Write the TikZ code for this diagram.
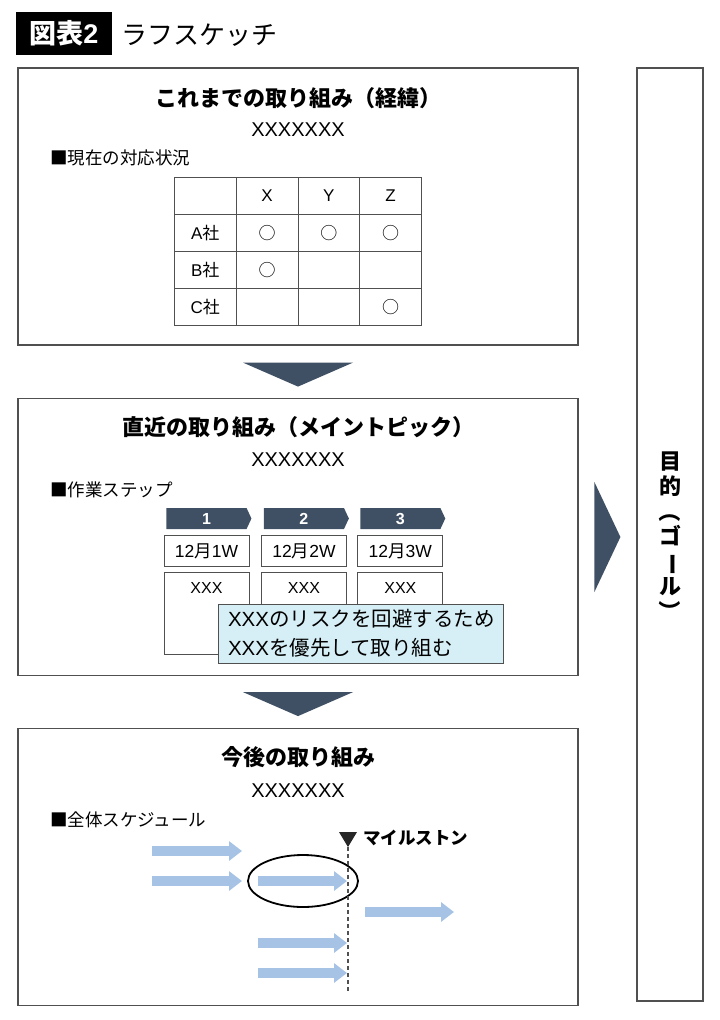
\documentclass[tikz,border=0pt]{standalone}
\usepackage{fontspec}
\usepackage{graphicx}
\setmainfont{Noto Sans CJK JP}
\newfontfamily\lat{Liberation Sans}
\usetikzlibrary{arrows.meta,positioning,calc,matrix,shapes.symbols}

\definecolor{framegray}{RGB}{80,80,80}
\definecolor{slate}{RGB}{64,80,100}
\definecolor{barblue}{RGB}{166,195,230}
\definecolor{noteblue}{RGB}{214,238,245}
\newcommand{\fsz}[1]{\fontsize{#1}{#1}\selectfont}
\newcommand{\vrot}[1]{\rotatebox[origin=c]{-90}{#1}}

\begin{document}
\begin{tikzpicture}[x=1pt,y=-1pt,
  titlebox/.style={fill=black,text=white,minimum width=96,minimum height=43,inner sep=0,font=\bfseries\fsz{27}},
  panel/.style={draw=framegray,line width=1.2pt,minimum width=560,minimum height=277,inner sep=0},
  goalbox/.style={draw=framegray,line width=1.2pt,minimum width=66,minimum height=933,inner sep=0},
  heading/.style={font=\bfseries\fsz{22}},
  subhead/.style={font=\lat\fsz{20}},
  sectlabel/.style={anchor=west,inner sep=0,font=\fsz{17.5}},
  cell/.style={draw=framegray,line width=0.9pt,minimum width=61.75,minimum height=37,inner sep=0,anchor=center,font=\fsz{17}},
  stephead/.style={signal,signal to=east,signal pointer angle=130,fill=slate,text=white,minimum width=85,minimum height=21,inner sep=0,font=\lat\bfseries\fsz{16}},
  datebox/.style={draw=framegray,line width=0.9pt,minimum width=85,minimum height=31,inner sep=0,font=\fsz{17.5}},
  taskbox/.style={draw=framegray,line width=0.9pt,minimum width=85,minimum height=82,inner sep=0},
  tasktext/.style={inner sep=0,font=\lat\fsz{16}},
  note/.style={draw=framegray,fill=noteblue,line width=0.9pt,text width=265,inner xsep=10,inner ysep=0,minimum height=59,align=left,font=\fontsize{20.5}{29}\selectfont},
  bar/.style={barblue,line width=10pt,-{Triangle[length=13pt,width=19pt]}},
  milestone/.style={framegray,line width=1.2pt,dash pattern=on 4pt off 3pt},
  mslabel/.style={anchor=west,inner sep=0,font=\bfseries\fsz{17.5}},
  goaltext/.style={align=center,inner sep=0,font=\bfseries\fontsize{22}{25}\selectfont},
]
\useasboundingbox (0,0) rectangle (720,1020);

% Title
\node[titlebox] (figno) at (64,33.5) {図表{\lat 2}};
\node[anchor=west,inner sep=0,font=\fsz{26}] (figtitle) at (121,35) {ラフスケッチ};

% Panels
\node[panel] (past) at (298,206.5) {};
\node[panel] (now) at (298,537) {};
\node[panel] (future) at (298,867) {};
\node[goalbox] (goal) at (670,534.5) {};

% Arrows between panels
\fill[slate] ($(past.south)+(-55,17)$) -- ($(past.south)+(55,17)$) -- ($(past.south)+(0,41)$) -- cycle;
\fill[slate] ($(now.south)+(-55,16)$) -- ($(now.south)+(55,16)$) -- ($(now.south)+(0,40)$) -- cycle;
\fill[slate] ($(goal.west)+(-42,-52.5)$) -- ($(goal.west)+(-16,2.5)$) -- ($(goal.west)+(-42,57.5)$) -- cycle;

% Past
\node[heading] (pasthead) at (298,98) {これまでの取り組み（経緯）};
\node[subhead] (pastsub) at (298,130) {XXXXXXX};
\node[sectlabel] (pastlabel) at (50,158) {■現在の対応状況};
\matrix (status) [matrix of nodes,nodes in empty cells,nodes={cell},column sep=-0.9pt,row sep=-0.9pt,inner sep=0,outer sep=0,anchor=north west] at (174,177) {
              & {\lat X} & {\lat Y} & {\lat Z} \\
  {\lat A}社 & ○ & ○ & ○ \\
  {\lat B}社 & ○ &   &   \\
  {\lat C}社 &   &   & ○ \\
};

% Now
\node[heading] (nowhead) at (298,427) {直近の取り組み（メイントピック）};
\node[subhead] (nowsub) at (298,460) {XXXXXXX};
\node[sectlabel] (nowlabel) at (50,490) {■作業ステップ};
\node[stephead] (step1) at (206.5,518.5) {1};
\node[stephead,right=12pt of step1] (step2) {2};
\node[stephead,right=11pt of step2] (step3) {3};
\node[datebox,below=6pt of step1] (week1) {{\lat 12}月{\lat 1W}};
\node[datebox,below=6pt of step2] (week2) {{\lat 12}月{\lat 2W}};
\node[datebox,below=6pt of step3] (week3) {{\lat 12}月{\lat 3W}};
\node[taskbox,below=5pt of week1] (task1) {};
\node[taskbox,below=5pt of week2] (task2) {};
\node[taskbox,below=5pt of week3] (task3) {};
\node[tasktext,below=10pt of task1.north] (task1text) {XXX};
\node[tasktext,below=10pt of task2.north] (task2text) {XXX};
\node[tasktext,below=10pt of task3.north] (task3text) {XXX};
\node[note] (risk) at (360.5,633.5) {{\lat XXX}のリスクを回避するため\\{\lat XXX}を優先して取り組む};

% Future
\node[heading] (futurehead) at (298,757) {今後の取り組み};
\node[subhead] (futuresub) at (298,791) {XXXXXXX};
\node[sectlabel] (futurelabel) at (50,820) {■全体スケジュール};
\draw[bar] (152,851) -- (242,851);
\draw[bar] (152,881) -- (242,881);
\draw[bar] (258,881) -- (347,881);
\draw[bar] (365,912) -- (454,912);
\draw[bar] (258,943) -- (347,943);
\draw[bar] (258,973) -- (347,973);
\draw[line width=1.8pt] (303,881) ellipse [x radius=55,y radius=26];

% Milestone
\coordinate (mstop) at (348,847);
\coordinate (msbottom) at (348,992);
\fill[black!85] ($(mstop)+(-9,-15)$) -- ($(mstop)+(9,-15)$) -- (mstop) -- cycle;
\draw[milestone] (mstop) -- (msbottom);
\node[mslabel] (mstext) at (363,838) {マイルストン};

% Goal
\node[goaltext] (goaltitle) at (670,537) {目\\的\\\vrot{（}\\ゴ\\\vrot{ー}\\ル\\\vrot{）}};
\end{tikzpicture}
\end{document}
